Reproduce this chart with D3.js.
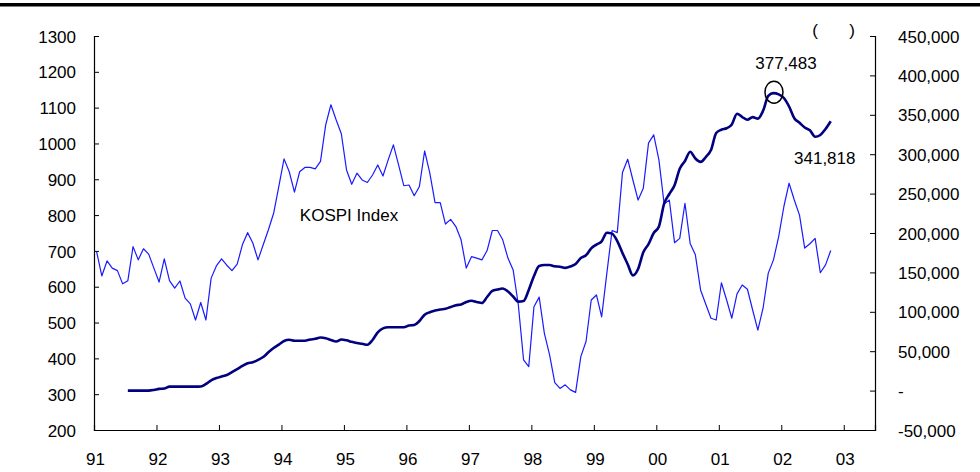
<!DOCTYPE html>
<html>
<head>
<meta charset="utf-8">
<script src="https://cdn.jsdelivr.net/npm/d3@7"></script>
<style>
  body { margin: 0; background: #fff; }
  svg { display: block; font-family: "Liberation Sans", Arial, sans-serif; }
</style>
</head>
<body>
<div id="chart"></div>
<script>
// year labels on the x axis (one per 12 months, starting Jan 1991)
const yearLabels = ["91", "92", "93", "94", "95", "96", "97", "98", "99", "00", "01", "02", "03"];

// KOSPI index, monthly from Jan 1991 (left axis)
const kospi = [
  698, 630, 672, 652, 645, 608, 617, 712, 675, 706,
  691, 652, 613, 678, 617, 596, 616, 568, 552, 507,
  556, 507, 624, 658, 678, 660, 645, 663, 717, 751,
  722, 675, 717, 759, 805, 880, 957, 921, 864, 921,
  933, 933, 929, 950, 1052, 1108, 1066, 1027, 926, 886,
  917, 898, 891, 912, 940, 909, 954, 996, 940, 882,
  884, 854, 880, 979, 917, 835, 835, 775, 788, 768,
  731, 652, 684, 680, 675, 701, 757, 757, 731, 680,
  647, 549, 396, 377, 544, 571, 470, 410, 332, 316,
  326, 312, 305, 405, 447, 563, 577, 516, 638, 757,
  751, 919, 956, 898, 842, 875, 1001, 1024, 954, 831,
  842, 723, 735, 833, 721, 689, 591, 551, 512, 507,
  611, 563, 512, 580, 605, 593, 535, 479, 540, 638,
  675, 740, 824, 889, 842, 800, 708, 720, 735, 639,
  661, 701
];

// second series (right axis), monthly, starts Jul 1991
const balanceStart = 6;
const balance = [
  0, 0, 0, 0, 0, 800, 2200, 2700, 5000, 5000,
  5000, 5000, 5000, 5000, 5300, 8400, 13100, 15900, 17900, 19800,
  23600, 27400, 31300, 34800, 36000, 39000, 42600, 48600, 54100, 58400,
  62900, 64500, 63300, 63300, 63300, 64800, 65700, 67300, 66500, 64200,
  62300, 64800, 63800, 61900, 60400, 59400, 58200, 64200, 74000, 78900,
  80300, 80300, 80300, 80300, 82600, 83200, 88300, 96300, 99500, 101500,
  103000, 103800, 106100, 108400, 109300, 112400, 114000, 112400, 111200, 118800,
  126400, 128300, 129600, 125800, 119400, 112900, 113700, 127700, 145400, 158100,
  159400, 159400, 157700, 157200, 155800, 157500, 160800, 168300, 171700, 180600,
  185300, 189300, 200400, 199200, 189800, 174600, 160400, 146200, 154300, 175500,
  186000, 200000, 208200, 237200, 249500, 260700, 281500, 291400, 303200, 294500,
  290200, 296400, 305300, 326900, 331100, 332900, 337800, 351300, 347200, 343800,
  347000, 345100, 355100, 373900, 377483, 376000, 371300, 360500, 345700, 340000,
  333900, 330300, 322200, 324400, 332000, 341818
];

const leftTicks = [200, 300, 400, 500, 600, 700, 800, 900, 1000, 1100, 1200, 1300];
const rightTicks = [-50000, 0, 50000, 100000, 150000, 200000, 250000, 300000, 350000, 400000, 450000];

drawChart();

function drawChart () {
  const width = 980;
  const height = 472;
  const margin = { top: 36, right: 105, bottom: 42, left: 94 };

  const svg = d3.select("#chart")
    .append("svg")
      .attr("width", width)
      .attr("height", height);

  // heavy rule across the top
  svg.append("rect")
    .attr("x", 0)
    .attr("y", 3)
    .attr("width", width)
    .attr("height", 3.5)
    .attr("fill", "#000");

  const x = d3.scaleLinear()
    .domain([0, 150])
    .range([margin.left, width - margin.right]);

  const yLeft = d3.scaleLinear()
    .domain([200, 1300])
    .range([height - margin.bottom, margin.top]);

  const yRight = d3.scaleLinear()
    .domain([-50000, 450000])
    .range([height - margin.bottom, margin.top]);

  // plain hyphen for negatives, like the source
  const fmt = d3.formatLocale({ decimal: ".", thousands: ",", grouping: [3], currency: ["", ""], minus: "-" }).format(",");

  // left axis, ticks pointing inward
  const leftAxis = svg.append("g")
    .attr("transform", `translate(${margin.left},0)`)
    .call(d3.axisLeft(yLeft).tickValues(leftTicks).tickSize(-5).tickPadding(18).tickFormat(d3.format("d")));

  // right axis, ticks pointing inward
  const rightAxis = svg.append("g")
    .attr("transform", `translate(${width - margin.right},0)`)
    .call(d3.axisRight(yRight).tickValues(rightTicks).tickSize(-5).tickPadding(23)
      .tickFormat(d => d === 0 ? "-" : fmt(d)));

  // bottom axis, ticks pointing up at each year
  const bottomAxis = svg.append("g")
    .attr("transform", `translate(0,${height - margin.bottom})`)
    .call(d3.axisBottom(x)
      .tickValues(d3.range(0, yearLabels.length * 12, 12))
      .tickSize(-5)
      .tickPadding(23)
      .tickFormat((d, i) => yearLabels[i]));

  [leftAxis, rightAxis, bottomAxis].forEach(g => {
    g.select(".domain").attr("stroke", "#000").attr("stroke-width", 1.2);
    g.selectAll(".tick line").attr("stroke", "#000").attr("stroke-width", 1);
    g.selectAll(".tick text")
      .attr("fill", "#000")
      .style("font-size", "17px")
      .style("font-family", "'Liberation Sans', Arial, sans-serif");
  });
  leftAxis.selectAll(".tick text").attr("dy", "0.36em");
  rightAxis.selectAll(".tick text").attr("text-anchor", "start").attr("dy", "0.36em");
  bottomAxis.selectAll(".tick text").attr("dx", 1).attr("dy", "0.71em");

  // KOSPI line (thin, blue)
  const kospiLine = d3.line()
    .x((d, i) => x(i + 0.5))
    .y(d => yLeft(d));

  svg.append("path")
    .datum(kospi)
    .attr("d", kospiLine)
    .attr("fill", "none")
    .attr("stroke", "#1a1aff")
    .attr("stroke-width", 1.2)
    .attr("stroke-linejoin", "round");

  // balance line (thick, navy)
  const balanceLine = d3.line()
    .x((d, i) => x(balanceStart + i + 0.5))
    .y(d => yRight(d))
    .curve(d3.curveMonotoneX);

  svg.append("path")
    .datum(balance)
    .attr("d", balanceLine)
    .attr("fill", "none")
    .attr("stroke", "#000080")
    .attr("stroke-width", 2.6)
    .attr("stroke-linejoin", "round");

  // annotations
  const peak = d3.max(balance);
  const peakIdx = balance.indexOf(peak);
  const px = x(balanceStart + peakIdx + 0.5);
  const py = yRight(peak);

  svg.append("ellipse")
    .attr("cx", px + 0.5)
    .attr("cy", py - 1)
    .attr("rx", 9)
    .attr("ry", 11)
    .attr("fill", "none")
    .attr("stroke", "#000")
    .attr("stroke-width", 1.5);

  addLabel(svg, px + 12.5, py - 24, fmt(peak));

  const lastIdx = balance.length - 1;
  const last = balance[lastIdx];
  addLabel(svg, x(balanceStart + lastIdx + 0.5) - 6, yRight(last) + 43, fmt(last));

  addLabel(svg, 349, 221, "KOSPI Index");

  // unit label (text inside the brackets is not rendered in the source)
  addLabel(svg, 815, 36, "(");
  addLabel(svg, 852, 36, ")");
}

function addLabel (svg, x, y, text) {
  svg.append("text")
    .attr("x", x)
    .attr("y", y)
    .attr("text-anchor", "middle")
    .attr("fill", "#000")
    .style("font-size", "17px")
    .text(text);
}
</script>
</body>
</html>
